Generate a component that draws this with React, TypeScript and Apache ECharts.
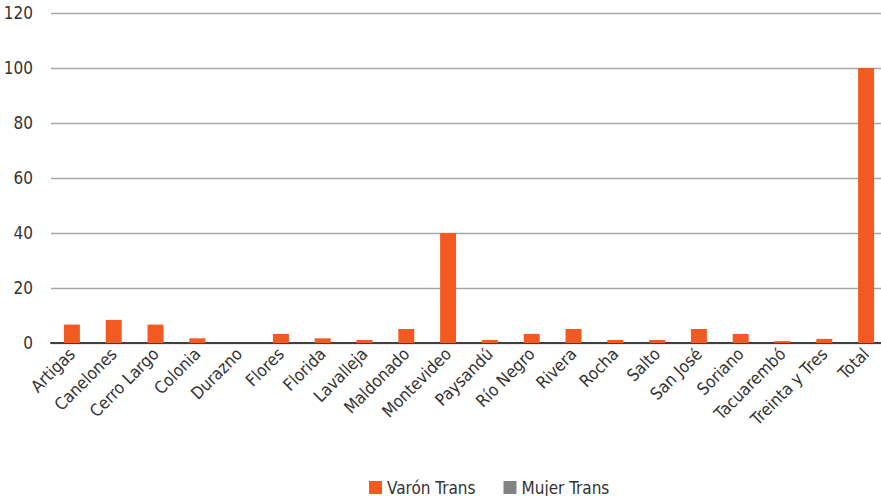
import React, { useEffect, useRef } from "react";
import * as echarts from "echarts";

const categories = [
  "Artigas", "Canelones", "Cerro Largo", "Colonia", "Durazno", "Flores", "Florida",
  "Lavalleja", "Maldonado", "Montevideo", "Paysandú", "Río Negro", "Rivera", "Rocha",
  "Salto", "San José", "Soriano", "Tacuarembó", "Treinta y Tres", "Total",
];
const varonTrans = [6.7, 8.4, 6.7, 1.7, 0, 3.3, 1.7, 1.1, 5.1, 40, 1.1, 3.3, 5.1, 1.1, 1.1, 5.1, 3.3, 0.7, 1.5, 100];
const mujerTrans = [0, 0, 0, 0, 0, 0, 0, 0, 0, 0, 0, 0, 0, 0, 0, 0, 0, 0, 0, 0];
const seriesNames = ["Varón Trans", "Mujer Trans"];

const FONT = "'Liberation Sans Narrow', 'DejaVu Sans Condensed', 'Open Sans', sans-serif";

export default function App() {
  const ref = useRef<HTMLDivElement>(null);
  useEffect(() => {
    if (!ref.current) return;
    const chart = echarts.init(ref.current, undefined, { renderer: "svg" });
    chart.setOption({
      animation: false,
      textStyle: { fontFamily: FONT },
      grid: { left: 51, top: 13, width: 836, height: 330, containLabel: false },
      legend: {
        top: 474,
        left: 364,
        itemWidth: 13,
        itemHeight: 13,
        itemGap: 28,
        icon: "rect",
        textStyle: { fontFamily: FONT, fontSize: 17, color: "#333" },
        data: seriesNames,
      },
      xAxis: {
        type: "category",
        data: categories,
        axisLine: { lineStyle: { color: "#404040", width: 2 } },
        axisTick: { show: false },
        axisLabel: {
          interval: 0,
          rotate: 45,
          margin: 8,
          fontFamily: FONT,
          fontSize: 17,
          color: "#333",
        },
      },
      yAxis: {
        type: "value",
        min: 0,
        max: 120,
        interval: 20,
        axisLine: { show: false },
        axisTick: { show: false },
        splitLine: { lineStyle: { color: "#a6a6a6", width: 1.3 } },
        axisLabel: { margin: 18, fontFamily: FONT, fontSize: 17, color: "#333" },
      },
      series: [
        {
          name: seriesNames[0],
          type: "bar",
          stack: "s",
          data: varonTrans,
          barWidth: 16,
          itemStyle: { color: "#F25A22" },
        },
        {
          name: seriesNames[1],
          type: "bar",
          stack: "s",
          data: mujerTrans,
          barWidth: 16,
          itemStyle: { color: "#828282" },
        },
      ],
    });
    return () => chart.dispose();
  }, []);
  return (
    <div
      style={{ position: "fixed", left: 0, top: 0, width: 881, height: 496, overflow: "hidden", background: "#fff" }}
    >
      <div ref={ref} style={{ position: "absolute", left: 0, top: 0, width: 900, height: 496 }} />
    </div>
  );
}
